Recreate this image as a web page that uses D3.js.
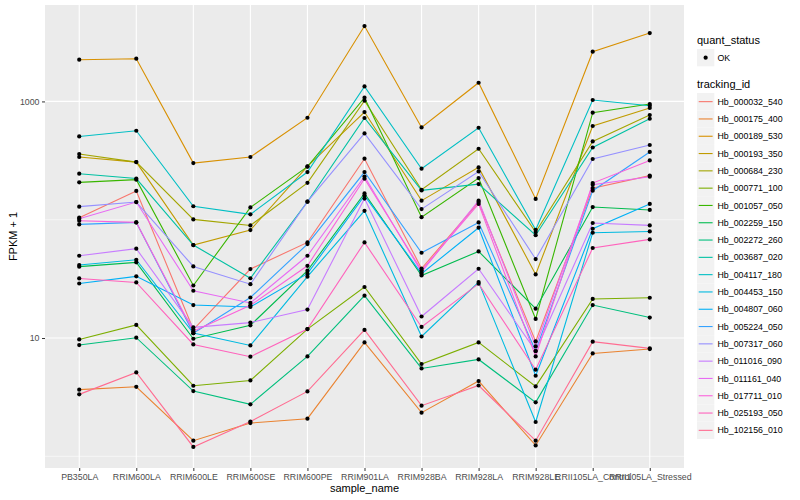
<!DOCTYPE html>
<html><head><meta charset="utf-8">
<script src="https://cdn.jsdelivr.net/npm/d3@7"></script>
<style>body{margin:0;background:#fff}</style>
</head><body>
<svg id="chart" width="800" height="500"></svg>
<script>
const samples = ["PB350LA","RRIM600LA","RRIM600LE","RRIM600SE","RRIM600PE","RRIM901LA","RRIM928BA","RRIM928LA","RRIM928LE","RRII105LA_Control","RRII105LA_Stressed"];
const trackingIds = ["Hb_000032_540","Hb_000175_400","Hb_000189_530","Hb_000193_350","Hb_000684_230","Hb_000771_100","Hb_001057_050","Hb_002259_150","Hb_002272_260","Hb_003687_020","Hb_004117_180","Hb_004453_150","Hb_004807_060","Hb_005224_050","Hb_007317_060","Hb_011016_090","Hb_011161_040","Hb_017711_010","Hb_025193_050","Hb_102156_010"];
const seriesColors = ["#F8766D","#EA8331","#D89000","#C09B00","#A3A500","#7CAE00","#39B600","#00BB4E","#00BF7D","#00C1A3","#00BFC4","#00BAE0","#00B0F6","#35A2FF","#9590FF","#C77CFF","#E76BF3","#FA62DB","#FF62BC","#FF6C91"];
// FPKM + 1, one row per tracking_id, one column per sample
const fpkmPlus1 = [
  [104, 175, 11.8, 38.3, 64.3, 328, 38.7, 141, 9.36, 185, 236],
  [3.66, 3.87, 1.355, 1.91, 2.08, 9.18, 2.34, 4.33, 1.236, 7.41, 8.07],
  [2252, 2296, 301, 339, 728, 4337, 603, 1439, 150, 2632, 3786],
  [339, 307, 61.1, 81.8, 282, 813, 145, 277, 34.5, 620, 880],
  [359, 307, 100.6, 89.5, 205, 1014, 179, 398, 78.7, 459, 767],
  [9.73, 12.9, 3.95, 4.38, 11.9, 27.0, 6.03, 9.18, 3.90, 21.4, 21.9],
  [207, 218, 27.8, 127, 281, 1075, 105, 225, 14.5, 803, 951],
  [40.1, 43.6, 9.86, 12.8, 37.1, 167, 33.8, 54.0, 17.7, 128, 121],
  [8.72, 10.06, 3.56, 2.75, 6.99, 22.8, 5.53, 6.59, 2.86, 19.0, 14.9],
  [245, 223, 61.1, 32.0, 142, 724, 177, 200, 74, 408, 714],
  [506, 565, 130, 111, 253, 1339, 270, 599, 82.3, 1028, 919],
  [41.4, 45.9, 11.0, 8.66, 33.0, 119, 10.3, 29.7, 1.95, 77.6, 79.6],
  [28.9, 33.2, 19.0, 18.3, 35.0, 160, 35.0, 85.6, 4.80, 83.9, 136],
  [91.3, 94.9, 11.0, 22.0, 62.3, 253, 52.6, 94.9, 7.76, 176, 374],
  [129, 141, 40.3, 28.5, 142, 536, 123, 256, 46.5, 326, 428],
  [49.6, 56.9, 12.3, 13.5, 17.4, 151, 15.2, 38.5, 7.76, 93.8, 89.5],
  [102, 141, 25.1, 19.8, 49.6, 232, 36.1, 145, 8.49, 198, 231],
  [98.1, 94.9, 11.4, 18.9, 40.8, 222, 37.4, 136, 6.99, 204, 317],
  [31.9, 29.5, 8.83, 6.95, 11.9, 64.3, 12.4, 28.8, 5.40, 57.7, 68.2],
  [3.34, 5.12, 1.20, 1.97, 3.54, 11.7, 2.68, 3.97, 1.355, 9.31, 8.17]
];
const yMajorTicks = [10, 1000];
const yMinorTicks = [1, 100];
const quantStatus = ["OK"];

const svg = d3.select("#chart");
const font = "'Liberation Sans', Arial, Helvetica, sans-serif";
const panel = {left: 45, right: 684, top: 5, bottom: 468};

svg.append("rect").attr("width", 800).attr("height", 500).attr("fill", "#fff");

const x = d3.scalePoint().domain(samples).range([panel.left, panel.right]).padding(0.6);
const allVals = fpkmPlus1.flat();
const lmin = Math.log10(d3.min(allVals)), lmax = Math.log10(d3.max(allVals));
const pad = (lmax - lmin) * 0.05;
const y = d3.scaleLog().domain([Math.pow(10, lmin - pad), Math.pow(10, lmax + pad)]).range([panel.bottom, panel.top]);

// panel
svg.append("rect").attr("x", panel.left).attr("y", panel.top)
  .attr("width", panel.right - panel.left).attr("height", panel.bottom - panel.top)
  .attr("fill", "#EBEBEB");
const grid = svg.append("g");
grid.selectAll(".ymin").data(yMinorTicks.filter(v => y(v) >= panel.top && y(v) <= panel.bottom)).join("line")
  .attr("x1", panel.left).attr("x2", panel.right).attr("y1", d => y(d)).attr("y2", d => y(d))
  .attr("stroke", "#fff").attr("stroke-width", 0.55);
grid.selectAll(".ymaj").data(yMajorTicks).join("line")
  .attr("x1", panel.left).attr("x2", panel.right).attr("y1", d => y(d)).attr("y2", d => y(d))
  .attr("stroke", "#fff").attr("stroke-width", 1.1);
grid.selectAll(".xmaj").data(samples).join("line")
  .attr("x1", d => x(d)).attr("x2", d => x(d)).attr("y1", panel.top).attr("y2", panel.bottom)
  .attr("stroke", "#fff").attr("stroke-width", 1.1);

// lines
const line = d3.line().x((d, i) => x(samples[i])).y(d => y(d));
svg.append("g").selectAll("path").data(fpkmPlus1).join("path")
  .attr("d", d => line(d)).attr("fill", "none")
  .attr("stroke", (d, i) => seriesColors[i]).attr("stroke-width", 1.1);
// points
const pts = [];
fpkmPlus1.forEach((row, i) => row.forEach((v, j) => pts.push({s: samples[j], v})));
svg.append("g").selectAll("circle").data(pts).join("circle")
  .attr("cx", d => x(d.s)).attr("cy", d => y(d.v)).attr("r", 2.1).attr("fill", "#000");

// axes
const yAxis = svg.append("g").attr("transform", `translate(${panel.left},0)`)
  .call(d3.axisLeft(y).tickValues(yMajorTicks).tickFormat(d3.format("d")).tickSize(3).tickPadding(2.5));
const xAxis = svg.append("g").attr("transform", `translate(0,${panel.bottom})`)
  .call(d3.axisBottom(x).tickSize(3).tickPadding(2.8));
[yAxis, xAxis].forEach(a => {
  a.select(".domain").remove();
  a.selectAll(".tick line").attr("stroke", "#333").attr("stroke-width", 1);
  a.selectAll(".tick text").attr("fill", "#4D4D4D").attr("font-family", font).attr("font-size", 8.8);
});

// axis titles
svg.append("text").attr("x", (panel.left + panel.right) / 2).attr("y", 492)
  .attr("text-anchor", "middle").attr("font-family", font).attr("font-size", 11).attr("fill", "#000")
  .text("sample_name");
svg.append("text").attr("transform", `translate(17,${(panel.top + panel.bottom) / 2}) rotate(-90)`)
  .attr("text-anchor", "middle").attr("font-family", font).attr("font-size", 11).attr("fill", "#000")
  .text("FPKM + 1");

// legends
const lg = svg.append("g").attr("font-family", font);
lg.append("text").attr("x", 697).attr("y", 44).attr("font-size", 11).text("quant_status");
const qs = lg.selectAll(".qs").data(quantStatus).join("g")
  .attr("transform", (d, i) => `translate(697,${49 + i * 17.3})`);
qs.append("rect").attr("width", 17.3).attr("height", 17.3).attr("fill", "#F2F2F2");
qs.append("circle").attr("cx", 8.65).attr("cy", 8.65).attr("r", 2.1).attr("fill", "#000");
qs.append("text").attr("x", 20.5).attr("y", 8.65).attr("dy", "0.35em").attr("font-size", 8.8).text(d => d);

lg.append("text").attr("x", 697).attr("y", 88).attr("font-size", 11).text("tracking_id");
const ti = lg.selectAll(".ti").data(trackingIds).join("g")
  .attr("transform", (d, i) => `translate(697,${93 + i * 17.3})`);
ti.append("rect").attr("width", 17.3).attr("height", 17.3).attr("fill", "#F2F2F2");
ti.append("line").attr("x1", 1.7).attr("x2", 15.6).attr("y1", 8.65).attr("y2", 8.65)
  .attr("stroke", (d, i) => seriesColors[i]).attr("stroke-width", 1.1);
ti.append("text").attr("x", 20.5).attr("y", 8.65).attr("dy", "0.35em").attr("font-size", 8.8).text(d => d);
</script>
</body></html>
